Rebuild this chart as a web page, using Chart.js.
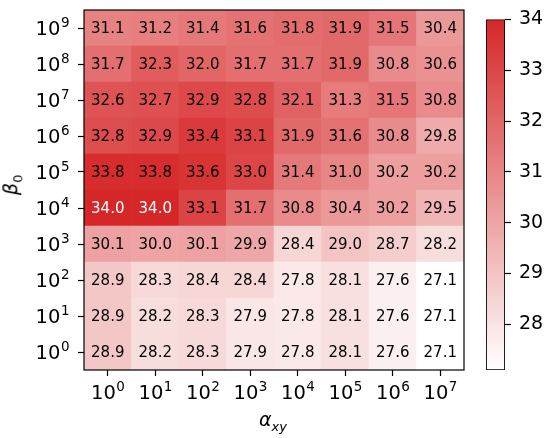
<!DOCTYPE html>
<html lang="en">
<head>
    <meta charset="UTF-8">
    <title>Heatmap</title>
    <script src="https://cdn.jsdelivr.net/npm/chart.js"></script>
    <style>
        body { margin: 0; background: #fff; }
        #wrap { position: relative; width: 548px; height: 438px; font-family: "DejaVu Sans", sans-serif; }
        canvas { position: absolute; top: 0; }
        .ttl { position: absolute; font-size: 19px; color: #000; white-space: nowrap; line-height: 22px; }
        .ttl sub { font-size: 13px; }
    </style>
</head>
<body>
<div id="wrap">
    <canvas id="mapa" width="470" height="438" style="left:0"></canvas>
    <canvas id="barra" width="78" height="438" style="left:470px"></canvas>
    <div class="ttl" id="tx" style="left:259px; top:408px;"><i>α</i><sub><i>xy</i></sub></div>
    <div class="ttl" id="ty" style="left:4px; top:170px; transform: rotate(-90deg);"><i>β</i><sub>0</sub></div>
</div>

<script>
    // etiquetas de los ejes (base^exponente)
    var xLabels = ['10^0', '10^1', '10^2', '10^3', '10^4', '10^5', '10^6', '10^7'];
    var yLabels = ['10^0', '10^1', '10^2', '10^3', '10^4', '10^5', '10^6', '10^7', '10^8', '10^9'];

    // valores, una fila por beta_0 (de 10^0 a 10^9)
    var b0 = [28.9, 28.2, 28.3, 27.9, 27.8, 28.1, 27.6, 27.1];
    var b1 = [28.9, 28.2, 28.3, 27.9, 27.8, 28.1, 27.6, 27.1];
    var b2 = [28.9, 28.3, 28.4, 28.4, 27.8, 28.1, 27.6, 27.1];
    var b3 = [30.1, 30.0, 30.1, 29.9, 28.4, 29.0, 28.7, 28.2];
    var b4 = [34.0, 34.0, 33.1, 31.7, 30.8, 30.4, 30.2, 29.5];
    var b5 = [33.8, 33.8, 33.6, 33.0, 31.4, 31.0, 30.2, 30.2];
    var b6 = [32.8, 32.9, 33.4, 33.1, 31.9, 31.6, 30.8, 29.8];
    var b7 = [32.6, 32.7, 32.9, 32.8, 32.1, 31.3, 31.5, 30.8];
    var b8 = [31.7, 32.3, 32.0, 31.7, 31.7, 31.9, 30.8, 30.6];
    var b9 = [31.1, 31.2, 31.4, 31.6, 31.8, 31.9, 31.5, 30.4];
    var filas = [b0, b1, b2, b3, b4, b5, b6, b7, b8, b9];

    // escala de color
    var vMin = 27.1;
    var vMax = 34.0;
    var cbTicks = [28, 29, 30, 31, 32, 33, 34];

    var fuente = { family: 'DejaVu Sans', size: 19 };

    function color(v) {
        var t = (v - vMin) / (vMax - vMin);
        t = Math.max(0, Math.min(1, t));
        var r = Math.round(255 + (214 - 255) * t);
        var g = Math.round(255 + (39 - 255) * t);
        var b = Math.round(255 + (40 - 255) * t);
        return 'rgb(' + r + ',' + g + ',' + b + ')';
    }

    var datasets = filas.map(function (fila, k) {
        return {
            data: fila.map(function () { return [k, k + 1]; }),
            valores: fila,
            backgroundColor: fila.map(color),
            borderWidth: 0,
            barPercentage: 1,
            categoryPercentage: 1,
            grouped: false
        };
    });

    // dibuja "10" con el exponente arriba
    function potencia(ctx, txt, x, base, alinear) {
        var p = txt.split('^');
        ctx.font = '19.5px "DejaVu Sans"';
        var wb = ctx.measureText(p[0]).width;
        ctx.font = '13.5px "DejaVu Sans"';
        var we = ctx.measureText(p[1]).width;
        var x0 = alinear === 'center' ? x - (wb + we) / 2 : x - (wb + we);
        ctx.textAlign = 'left';
        ctx.textBaseline = 'alphabetic';
        ctx.font = '19.5px "DejaVu Sans"';
        ctx.fillText(p[0], x0, base);
        ctx.font = '13.5px "DejaVu Sans"';
        ctx.fillText(p[1], x0 + wb + 0.5, base - 8);
    }

    // textos de las celdas, marco y etiquetas de los ejes
    var celdas = {
        id: 'celdas',
        afterDatasetsDraw: function (chart) {
            var ctx = chart.ctx;
            ctx.save();
            ctx.font = '15px "DejaVu Sans"';
            ctx.textAlign = 'center';
            ctx.textBaseline = 'middle';
            chart.data.datasets.forEach(function (ds, i) {
                chart.getDatasetMeta(i).data.forEach(function (el, j) {
                    var v = ds.valores[j];
                    ctx.fillStyle = v > 33.9 ? '#fff' : '#000';
                    ctx.fillText(v.toFixed(1), el.x, (el.y + el.base) / 2 + 1);
                });
            });
            var a = chart.chartArea;
            ctx.strokeStyle = '#000';
            ctx.lineWidth = 1.2;
            ctx.strokeRect(a.left, a.top, a.right - a.left, a.bottom - a.top);

            ctx.fillStyle = '#000';
            var sx = chart.scales.x, sy = chart.scales.y;
            xLabels.forEach(function (l, i) {
                potencia(ctx, l, sx.getPixelForTick(i), a.bottom + 29, 'center');
            });
            yLabels.forEach(function (l, i) {
                potencia(ctx, l, a.left - 15, sy.getPixelForTick(i) + 7, 'right');
            });
            ctx.restore();
        }
    };

    new Chart(document.getElementById('mapa').getContext('2d'), {
        type: 'bar',
        data: { labels: xLabels, datasets: datasets },
        options: {
            responsive: false,
            animation: false,
            layout: { padding: { top: 10, right: 6, left: 0, bottom: 0 } },
            plugins: { legend: { display: false }, tooltip: { enabled: false } },
            scales: {
                x: {
                    offset: true,
                    grid: { display: true, drawOnChartArea: false, offset: false, color: '#000', tickLength: 6, tickWidth: 1.2 },
                    border: { display: false },
                    ticks: { display: false },
                    afterFit: function (s) { s.height = 68; }
                },
                y: {
                    min: 0,
                    max: filas.length,
                    grid: { display: true, drawOnChartArea: false, color: '#000', tickLength: 6, tickWidth: 1.2 },
                    border: { display: false },
                    ticks: { display: false },
                    afterBuildTicks: function (s) {
                        s.ticks = yLabels.map(function (l, i) { return { value: i + 0.5 }; });
                    },
                    afterFit: function (s) { s.width = 84; }
                }
            }
        },
        plugins: [celdas]
    });

    // barra de color
    new Chart(document.getElementById('barra').getContext('2d'), {
        type: 'bar',
        data: {
            labels: [''],
            datasets: [{
                data: [[vMin, vMax]],
                barPercentage: 1,
                categoryPercentage: 1,
                borderWidth: 1.2,
                borderColor: '#000',
                borderSkipped: false,
                backgroundColor: function (c) {
                    var ch = c.chart;
                    if (!ch.chartArea) return color(vMax);
                    var y = ch.scales.y;
                    var g = ch.ctx.createLinearGradient(0, y.getPixelForValue(vMin), 0, y.getPixelForValue(vMax));
                    g.addColorStop(0, color(vMin));
                    g.addColorStop(1, color(vMax));
                    return g;
                }
            }]
        },
        options: {
            responsive: false,
            animation: false,
            layout: { padding: { top: 10, left: 16, right: 0, bottom: 68 } },
            plugins: { legend: { display: false }, tooltip: { enabled: false } },
            scales: {
                x: { display: false },
                y: {
                    position: 'right',
                    min: vMin,
                    max: vMax,
                    grid: { display: true, drawOnChartArea: false, color: '#000', tickLength: 6, tickWidth: 1.2 },
                    border: { display: false },
                    ticks: { color: '#000', font: fuente, padding: 8 },
                    afterBuildTicks: function (s) {
                        s.ticks = cbTicks.map(function (v) { return { value: v }; });
                    },
                    afterFit: function (s) { s.width = 43; }
                }
            }
        }
    });
</script>
</body>
</html>
